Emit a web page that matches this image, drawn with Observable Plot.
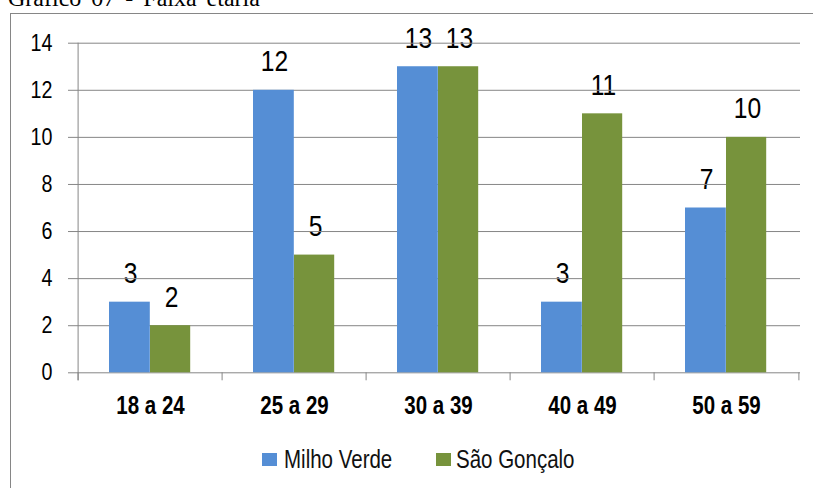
<!DOCTYPE html>
<html>
<head>
<meta charset="utf-8">
<script src="https://cdn.jsdelivr.net/npm/d3@7"></script>
<script src="https://cdn.jsdelivr.net/npm/@observablehq/plot@0.6"></script>
<style>
  html, body { margin: 0; padding: 0; }
  body { width: 813px; height: 488px; overflow: hidden; position: relative; background: #fff;
         font-family: "Liberation Sans", Arial, sans-serif; }
  #title { position: absolute; left: 8px; top: -14px; font-family: "Liberation Serif", "Times New Roman", serif;
           font-size: 24px; line-height: 24px; word-spacing: 4px; white-space: nowrap; color: #000; }
  #box { position: absolute; left: 10px; top: 13px; width: 900px; height: 600px; border: 1px solid #868686; box-sizing: border-box; }
  #chart { position: absolute; left: 0; top: 0; }
  #chart svg { background: none; overflow: visible; }
  #legend { position: absolute; left: 0; top: 447px; width: 813px; height: 30px;
            font-size: 25px; line-height: 25px; color: #111; white-space: nowrap; }
  #legend .sw { position: absolute; top: 6px; width: 15px; height: 13px; }
  #legend .tx { position: absolute; top: 0; transform: scaleX(0.82); transform-origin: left center; }
</style>
</head>
<body>
<div id="title">Gráfico 07 - Faixa etária</div>
<div id="box"></div>
<div id="chart"></div>
<div id="legend"></div>
<script>
const categories = ["18 a 24", "25 a 29", "30 a 39", "40 a 49", "50 a 59"];
const milhoVerde = [3, 12, 13, 3, 7];
const saoGoncalo = [2, 5, 13, 11, 10];
const seriesNames = ["Milho Verde", "São Gonçalo"];
const seriesColors = ["#558ED5", "#77933C"];
const yTicks = [0, 2, 4, 6, 8, 10, 12, 14];

const W = 813, H = 430;
const mL = 76, mR = 13, mT = 42.7, mB = H - 372.3;
const step = (W - mL - mR) / categories.length;
const barW = 41, gapL = 31;
const narrow = 0.82;

const blue = categories.map((c, i) => ({cat: c, value: milhoVerde[i]}));
const green = categories.map((c, i) => ({cat: c, value: saoGoncalo[i]}));
const gridColor = "#868686";

const plot = Plot.plot({
  width: W, height: H,
  marginLeft: mL, marginRight: mR, marginTop: mT, marginBottom: mB,
  style: {fontFamily: '"Liberation Sans", Arial, sans-serif', color: "#000", background: "none", overflow: "visible"},
  x: {domain: categories, padding: 0, label: null},
  y: {domain: [0, 14], label: null},
  marks: [
    Plot.text(blue, {x: "cat", y: "value", text: d => String(d.value), dx: -20, dy: -19, lineAnchor: "bottom", fontSize: 30, fill: "#000"}),
    Plot.text(green, {x: "cat", y: "value", text: d => String(d.value), dx: 21, dy: -19, lineAnchor: "bottom", fontSize: 30, fill: "#000"}),
    Plot.ruleY(yTicks, {stroke: gridColor, strokeWidth: 1}),
    Plot.barY(blue, {x: "cat", y: "value", fill: seriesColors[0], insetLeft: gapL, insetRight: step - gapL - barW - 0.6}),
    Plot.barY(green, {x: "cat", y: "value", fill: seriesColors[1], insetLeft: gapL + barW, insetRight: step - gapL - 2 * barW}),
    Plot.ruleX(categories, {x: d => d, y1: 0, y2: 0, dx: -step / 2, insetBottom: -8, stroke: gridColor}),
    Plot.ruleX([categories[categories.length - 1]], {x: d => d, y1: 0, y2: 0, dx: step / 2, insetBottom: -8, stroke: gridColor}),
    Plot.ruleX([categories[0]], {x: d => d, y1: 14, y2: 0, dx: -step / 2, insetBottom: -8, stroke: gridColor}),
    Plot.axisY({ticks: yTicks, tickSize: 8, tickPadding: 16, fontSize: 24, stroke: gridColor, label: null}),
    Plot.axisX({tickSize: 0, tickPadding: 23, fontSize: 25, fontWeight: "bold", label: null})
  ]
});
plot.querySelectorAll('[aria-label="x-axis tick label"] text, [aria-label="x-axis tick label"]').forEach(el => el.setAttribute("font-weight", "bold"));
// condense all texts horizontally about their anchor point (Arial Narrow look)
plot.querySelectorAll("text").forEach(t => {
  const tr = t.getAttribute("transform") || "";
  t.setAttribute("transform", (tr + ` scale(${narrow},1)`).trim());
});
document.getElementById("chart").appendChild(plot);

const legend = document.getElementById("legend");
const swX = [262, 436], txX = [284, 456];
seriesNames.forEach((name, i) => {
  const sw = document.createElement("span");
  sw.className = "sw";
  sw.style.left = swX[i] + "px";
  sw.style.background = seriesColors[i];
  const tx = document.createElement("span");
  tx.className = "tx";
  tx.style.left = txX[i] + "px";
  tx.textContent = name;
  legend.appendChild(sw);
  legend.appendChild(tx);
});
</script>
</body>
</html>
